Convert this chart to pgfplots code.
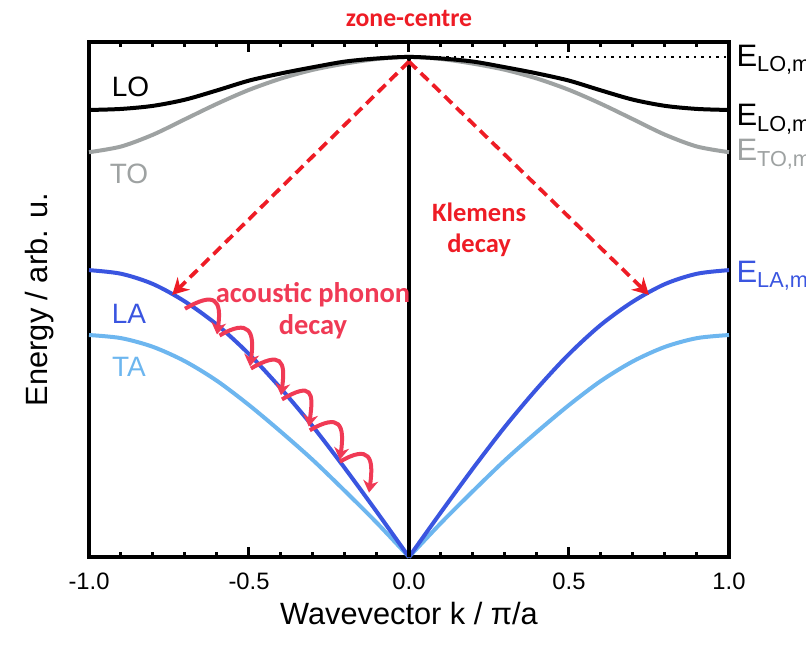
\documentclass[border=0pt]{standalone}
\usepackage{fontspec}
\setmainfont{Liberation Sans}
\newfontfamily\carl{Carlito}
\usepackage{pgfplots}
\pgfplotsset{compat=1.18}
\usetikzlibrary{arrows.meta}
\definecolor{toc}{HTML}{9EA2A2}
\definecolor{lac}{HTML}{3A55E0}
\definecolor{tac}{HTML}{6DB6EF}
\definecolor{klem}{HTML}{EE1C25}
\definecolor{aco}{HTML}{F03A55}

% dispersion branches, energy in arb. u.
\pgfplotstableread{
k     LO     TO     LA     TA
-1.0  0.868  0.786  0.557  0.431
-0.9  0.870  0.797  0.550  0.425
-0.8  0.876  0.820  0.530  0.408
-0.7  0.888  0.850  0.496  0.380
-0.6  0.906  0.880  0.451  0.342
-0.5  0.925  0.907  0.394  0.295
-0.4  0.939  0.929  0.327  0.243
-0.3  0.951  0.946  0.253  0.188
-0.2  0.962  0.958  0.172  0.128
-0.1  0.968  0.967  0.087  0.066
 0.0  0.971  0.971  0.000  0.000
 0.1  0.968  0.967  0.087  0.066
 0.2  0.962  0.958  0.172  0.128
 0.3  0.951  0.946  0.253  0.188
 0.4  0.939  0.929  0.327  0.243
 0.5  0.925  0.907  0.394  0.295
 0.6  0.906  0.880  0.451  0.342
 0.7  0.888  0.850  0.496  0.380
 0.8  0.876  0.820  0.530  0.408
 0.9  0.870  0.797  0.550  0.425
 1.0  0.868  0.786  0.557  0.431
}\disp

\begin{document}
\begin{tikzpicture}
\begin{axis}[
    scale only axis, width=256pt, height=206pt,
    xmin=-1, xmax=1, ymin=0, ymax=1,
    clip=false,
    axis line style={line width=1.6pt},
    xtick={-1,-0.5,0,0.5,1}, minor x tick num=4, ytick=\empty,
    tick align=inside, xtick pos=both,
    major tick length=4pt, minor tick length=2pt,
    every tick/.style={black, line width=1.2pt},
    xticklabel style={font=\fontsize{9.5}{11}\selectfont, yshift=-3pt,
      /pgf/number format/fixed, /pgf/number format/fixed zerofill,
      /pgf/number format/precision=1, /pgf/number format/assume math mode=true},
    xlabel={Wavevector k / π/a},
    ylabel={Energy / arb. u.},
    label style={font=\fontsize{12.3}{14}\selectfont},
    xlabel style={at={(axis description cs:0.5,-0.11)}, anchor=center},
    ylabel style={at={(axis description cs:-0.078,0.5)}, anchor=center},
    every axis plot/.append style={line width=1.6pt, no marks, smooth},
  ]
  \addplot[toc] table[x=k, y=TO] {\disp};
  \addplot[black] table[x=k, y=LO] {\disp};
  \addplot[tac, restrict x to domain=-1:0] table[x=k, y=TA] {\disp};
  \addplot[tac, restrict x to domain=0:1] table[x=k, y=TA] {\disp};
  \addplot[lac, restrict x to domain=-1:0] table[x=k, y=LA] {\disp};
  \addplot[lac, restrict x to domain=0:1] table[x=k, y=LA] {\disp};
  \addplot[black, line width=1.6pt, sharp plot] coordinates {(0,0) (0,0.971)};
  \addplot[black, line width=1pt, dotted, sharp plot] coordinates {(0,0.971) (1,0.971)};

  % branch names
  \node[font=\fontsize{11.2}{13}\selectfont] at (axis cs:-0.87,0.913) {LO};
  \node[font=\fontsize{11.2}{13}\selectfont, text=toc] at (axis cs:-0.875,0.744) {TO};
  \node[font=\fontsize{11.2}{13}\selectfont, text=lac] at (axis cs:-0.875,0.472) {LA};
  \node[font=\fontsize{11.2}{13}\selectfont, text=tac] at (axis cs:-0.875,0.369) {TA};

  % energies at the zone edge
  \begin{scope}[every node/.style={anchor=west, font=\fontsize{12.4}{14}\selectfont, inner sep=0pt}]
    \node at (axis cs:1.022,0.966) {E\textsubscript{LO,max}};
    \node at (axis cs:1.022,0.850) {E\textsubscript{LO,min}};
    \node[text=toc] at (axis cs:1.022,0.782) {E\textsubscript{TO,min}};
    \node[text=lac] at (axis cs:1.022,0.546) {E\textsubscript{LA,max}};
  \end{scope}

  % Klemens decay
  \begin{scope}[klem, line width=1.5pt, dash pattern=on 4.2pt off 2.4pt, -{Stealth[length=6.5pt,width=7pt]}]
    \draw (axis cs:0,0.962) -- (axis cs:-0.74,0.509);
    \draw (axis cs:0,0.962) -- (axis cs:0.75,0.509);
  \end{scope}
  \node[klem, font=\carl\bfseries\fontsize{10.3}{12}\selectfont] at (axis cs:0,1.045) {zone-centre};
  \node[klem, font=\carl\bfseries\fontsize{10.6}{12.2}\selectfont, align=center] at (axis cs:0.219,0.635) {Klemens\\decay};

  % acoustic phonon decay
  \node[aco, font=\carl\bfseries\fontsize{11.4}{12.6}\selectfont, align=center] at (axis cs:-0.3,0.478) {acoustic phonon\\decay};
  \begin{scope}[aco, line width=1.6pt, -{Stealth[length=4.8pt,width=6pt]}]
    \draw (axis cs:-0.700,0.482) .. controls +(12pt,7pt) and +(2pt,14pt) .. (axis cs:-0.600,0.432);
    \draw (axis cs:-0.592,0.430) .. controls +(12pt,7pt) and +(2pt,14pt) .. (axis cs:-0.497,0.370);
    \draw (axis cs:-0.494,0.366) .. controls +(12pt,7pt) and +(2pt,14pt) .. (axis cs:-0.400,0.314);
    \draw (axis cs:-0.397,0.306) .. controls +(12pt,7pt) and +(2pt,14pt) .. (axis cs:-0.313,0.253);
    \draw (axis cs:-0.310,0.246) .. controls +(12pt,7pt) and +(2pt,14pt) .. (axis cs:-0.216,0.189);
    \draw (axis cs:-0.216,0.185) .. controls +(12pt,7pt) and +(2pt,14pt) .. (axis cs:-0.125,0.125);
  \end{scope}
\end{axis}
\pgfresetboundingbox
\path[use as bounding box] (-35.6pt,-39.2pt) rectangle (286.8pt,222.8pt);
\end{tikzpicture}
\end{document}
